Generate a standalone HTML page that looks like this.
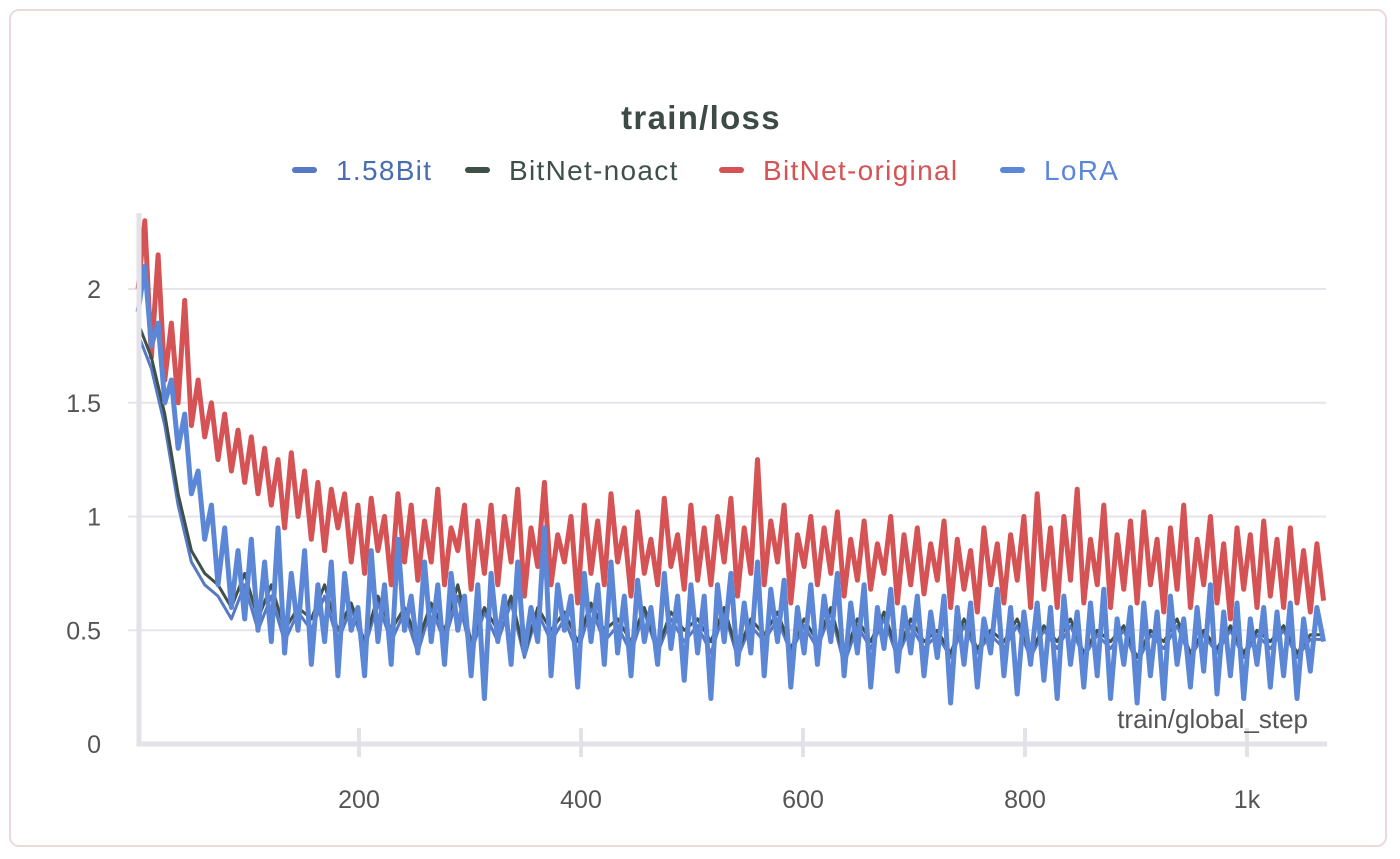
<!DOCTYPE html>
<html><head><meta charset="utf-8"><style>
body{margin:0;background:#fff;width:1400px;height:859px;overflow:hidden;font-family:"Liberation Sans","DejaVu Sans",sans-serif}
#card{position:absolute;left:9px;top:9px;width:1378px;height:838px;border:2px solid #ecd9dc;border-radius:10px;box-sizing:border-box}
</style></head><body>
<div id="card"></div>
<svg id="chart" width="1400" height="859" style="position:absolute;left:0;top:0">
<text x="701" y="129" text-anchor="middle" font-size="33" font-weight="bold" letter-spacing="1.3" fill="#3d4a45">train/loss</text>
<g font-size="28" letter-spacing="1.3">
<g><rect x="292" y="167" width="25" height="6" rx="3" fill="#5679c4"/><text x="336" y="180" fill="#4a6db0">1.58Bit</text></g>
<g><rect x="465" y="167" width="25" height="6" rx="3" fill="#3f5048"/><text x="509" y="180" fill="#3f5048">BitNet-noact</text></g>
<g><rect x="719" y="167" width="25" height="6" rx="3" fill="#d55354"/><text x="763" y="180" fill="#d55354">BitNet-original</text></g>
<g><rect x="1000" y="167" width="25" height="6" rx="3" fill="#5b87d6"/><text x="1044" y="180" fill="#5b87d6">LoRA</text></g>
</g>
<g id="grid"></g><g id="series"></g><g id="axes"></g>
</svg>
<script>
const yTicks=[0,0.5,1,1.5,2];
const yTickLabels=["0","0.5","1","1.5","2"];
const xTicks=[200,400,600,800,1000];
const xTickLabels=["200","400","600","800","1k"];
const redStep=6;
const bitnetOriginal=[2.0,2.3,1.7,2.15,1.6,1.85,1.5,1.95,1.4,1.6,1.35,1.5,1.25,1.45,1.2,1.38,1.15,
1.35,1.1,1.3,1.05,1.25,0.95,1.28,1.0,1.2,0.9,1.15,0.85,1.12,0.95,1.1,0.8,1.05,
0.75,1.08,0.85,1.0,0.7,1.1,0.8,1.05,0.72,0.98,0.8,1.12,0.7,0.95,0.85,1.05,0.68,
0.98,0.75,1.05,0.7,1.0,0.8,1.12,0.65,0.95,0.78,1.15,0.7,0.92,0.8,1.0,0.62,1.05,
0.75,0.98,0.7,1.1,0.8,0.95,0.65,1.02,0.75,0.9,0.7,1.08,0.78,0.92,0.68,1.05,0.72,
0.95,0.7,1.0,0.8,1.08,0.65,0.95,0.75,1.25,0.7,0.98,0.8,1.05,0.62,0.92,0.78,1.0,
0.7,0.95,0.75,1.02,0.65,0.9,0.72,0.98,0.68,0.88,0.75,1.0,0.62,0.92,0.7,0.95,0.66,
0.88,0.72,0.98,0.6,0.9,0.68,0.85,0.58,0.95,0.7,0.88,0.62,0.92,0.72,1.0,0.6,1.1,
0.68,0.95,0.6,1.0,0.72,1.12,0.62,0.9,0.7,1.05,0.6,0.92,0.68,0.98,0.62,1.02,0.7,
0.9,0.58,0.95,0.68,1.05,0.6,0.9,0.7,1.0,0.62,0.88,0.55,0.95,0.68,0.92,0.6,0.98,
0.65,0.9,0.6,0.95,0.62,0.85,0.58,0.88,0.63];
const lora=[1.9,2.1,1.75,1.85,1.5,1.6,1.3,1.45,1.1,1.2,0.9,1.05,0.7,0.95,0.6,0.85,0.55,
0.9,0.5,0.8,0.45,0.95,0.4,0.75,0.5,0.85,0.35,0.7,0.45,0.8,0.3,0.75,0.5,0.6,
0.3,0.85,0.45,0.7,0.35,0.9,0.5,0.65,0.4,0.8,0.45,0.7,0.35,0.75,0.5,0.65,0.3,
0.7,0.2,0.75,0.45,0.65,0.35,0.8,0.4,0.6,0.45,0.95,0.3,0.7,0.5,0.65,0.25,0.75,
0.45,0.7,0.35,0.8,0.4,0.65,0.3,0.72,0.45,0.6,0.35,0.75,0.42,0.65,0.28,0.7,0.4,
0.65,0.2,0.7,0.45,0.75,0.35,0.62,0.4,0.8,0.3,0.68,0.45,0.72,0.25,0.6,0.4,0.7,
0.35,0.65,0.45,0.75,0.3,0.62,0.4,0.7,0.25,0.6,0.42,0.68,0.32,0.6,0.4,0.65,0.3,
0.58,0.38,0.65,0.18,0.6,0.35,0.62,0.25,0.55,0.4,0.68,0.3,0.6,0.22,0.58,0.35,0.62,
0.28,0.6,0.2,0.65,0.35,0.58,0.25,0.62,0.3,0.68,0.2,0.55,0.35,0.6,0.18,0.62,0.3,
0.58,0.2,0.65,0.35,0.55,0.25,0.6,0.32,0.7,0.22,0.58,0.3,0.62,0.2,0.55,0.35,0.6,
0.25,0.58,0.3,0.62,0.2,0.55,0.32,0.6,0.45];
const coarseStep=12;
const bitnetNoact=[1.85,1.7,1.45,1.1,0.85,0.75,0.7,0.6,0.75,0.55,0.7,0.5,0.6,0.55,0.7,0.5,0.62,0.45,0.65,0.5,0.6,0.45,0.62,0.5,0.7,0.45,0.6,0.5,0.65,0.4,0.6,0.5,0.58,0.45,0.62,0.5,0.55,0.45,0.6,0.42,0.58,0.5,0.55,0.45,0.6,0.4,0.55,0.48,0.58,0.42,0.55,0.45,0.6,0.38,0.55,0.45,0.58,0.4,0.55,0.45,0.5,0.4,0.55,0.42,0.5,0.45,0.55,0.4,0.52,0.45,0.55,0.4,0.5,0.45,0.52,0.38,0.5,0.45,0.55,0.4,0.5,0.42,0.52,0.4,0.5,0.45,0.52,0.4,0.48,0.48];
const bit158=[1.8,1.65,1.4,1.05,0.8,0.7,0.65,0.55,0.7,0.5,0.65,0.45,0.58,0.5,0.65,0.45,0.6,0.42,0.62,0.45,0.58,0.4,0.6,0.45,0.65,0.4,0.58,0.45,0.62,0.38,0.58,0.45,0.55,0.4,0.6,0.45,0.52,0.4,0.58,0.4,0.55,0.45,0.52,0.4,0.58,0.38,0.52,0.45,0.55,0.4,0.52,0.42,0.58,0.35,0.52,0.42,0.55,0.38,0.52,0.42,0.48,0.38,0.52,0.4,0.48,0.42,0.52,0.38,0.5,0.42,0.52,0.38,0.48,0.42,0.5,0.35,0.48,0.42,0.52,0.38,0.48,0.4,0.5,0.38,0.48,0.42,0.5,0.38,0.46,0.46];

const NS="http://www.w3.org/2000/svg";
const xs=v=>137+v*1.11;
const ys=v=>744-v*227.5;
function mk(tag,attrs,parent){const e=document.createElementNS(NS,tag);for(const k in attrs)e.setAttribute(k,attrs[k]);parent.appendChild(e);return e;}
const grid=document.getElementById('grid'),series=document.getElementById('series'),axes=document.getElementById('axes');
yTicks.forEach((t,i)=>{
  if(t>0){const g=mk('line',{x1:128,x2:1326,y1:ys(t),y2:ys(t),stroke:'#e4e4ea','stroke-width':2},grid);
  
  }
  const l=mk('text',{x:101,y:ys(t)+9,'text-anchor':'end','font-size':25,fill:'#555'},axes);
  l.textContent=yTickLabels[i];
  
  
});
function draw(arr,step,color,w,name){
  const d=arr.map((v,i)=>(i?'L':'M')+xs(1+i*step).toFixed(1)+' '+ys(v).toFixed(1)).join(' ');
  const p=mk('path',{d:d,fill:'none',stroke:color,'stroke-width':w,'stroke-linejoin':'round'},series);
  
  
}
draw(bitnetOriginal,redStep,'#d55354',5,'series-bitnet-original');
draw(bit158,coarseStep,'#5679c4',3,'series-1.58bit');
draw(bitnetNoact,coarseStep,'#3f5048',3,'series-bitnet-noact');
draw(lora,redStep,'#5b87d6',5,'series-lora');
const ya=mk('line',{x1:139,x2:139,y1:213,y2:746,stroke:'#e2e2e8','stroke-width':5},axes);


const xa=mk('line',{x1:137,x2:1327,y1:744,y2:744,stroke:'#e2e2e8','stroke-width':5},axes);


xTicks.forEach((t,i)=>{
  const tk=mk('line',{x1:xs(t),x2:xs(t),y1:728,y2:757,stroke:'#e2e2e8','stroke-width':4},axes);
  
  
  const l=mk('text',{x:xs(t),y:808,'text-anchor':'middle','font-size':25,fill:'#555'},axes);
  l.textContent=xTickLabels[i];
  
  
});
const xt=mk('text',{x:1308,y:728,'text-anchor':'end','font-size':26,fill:'#555'},axes);
xt.textContent='train/global_step';


</script>
</body></html>
